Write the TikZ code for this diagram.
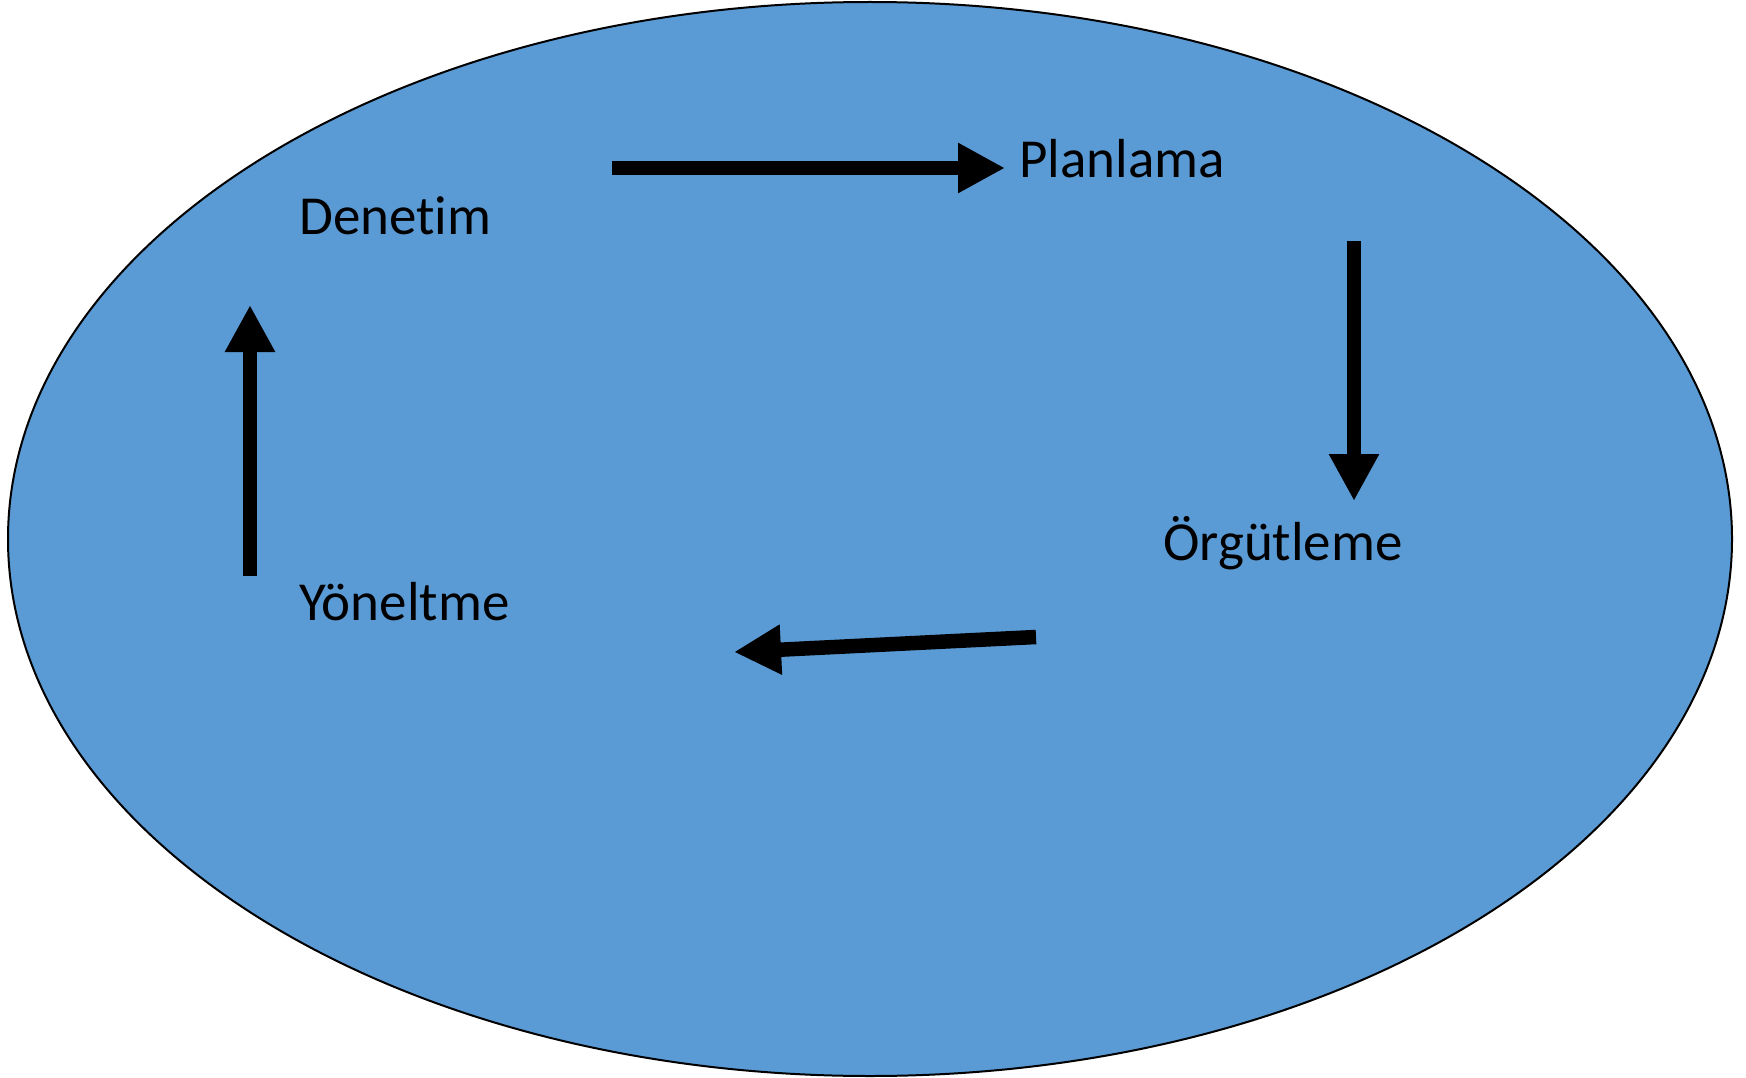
\documentclass[tikz,border=0pt]{standalone}
\usepackage{fontspec}
\setmainfont[Ligatures={NoCommon}]{Carlito}
\usepackage{xcolor}
\usetikzlibrary{arrows.meta}
\usetikzlibrary{positioning}
\definecolor{ovalblue}{HTML}{5B9BD5}
\tikzset{
	cyclearrow/.style={line width=14.5pt, -{Triangle[length=47pt,width=47pt]}},
	steplabel/.style={anchor=base west, inner sep=0pt, font=\fontsize{55}{66}\selectfont}
}

\begin{document}
\begin{tikzpicture}[x=1pt,y=-1pt]
			\useasboundingbox (0,0) rectangle (1746,1078);
			% Draw the oval
			\draw[fill=ovalblue, line width=2pt] (870,539) ellipse (862 and 537);
			
			% Labels
			\node[steplabel] (plan) at (1019,178) {Planlama};
			\node[steplabel] (org) at (1163,560) {Örgütleme};
			\node[steplabel] (yon) at (299,620) {Yöneltme};
			\node[steplabel] (den) at (299,235) {Denetim};
			
			% Arrow ends
			\coordinate (a1) at (612,168);
			\coordinate (b1) at (1005,168);
			\coordinate (a2) at (1354,241);
			\coordinate (b2) at (1354,501);
			\coordinate (a3) at (1036,637);
			\coordinate (b3) at (734,652);
			\coordinate (a4) at (250,576);
			\coordinate (b4) at (250,305);
			
			% Arrows
			\draw[cyclearrow] (a1) -- (b1);
			\draw[cyclearrow] (a2) -- (b2);
			\draw[cyclearrow] (a3) -- (b3);
			\draw[cyclearrow] (a4) -- (b4);
		\end{tikzpicture}
\end{document}
